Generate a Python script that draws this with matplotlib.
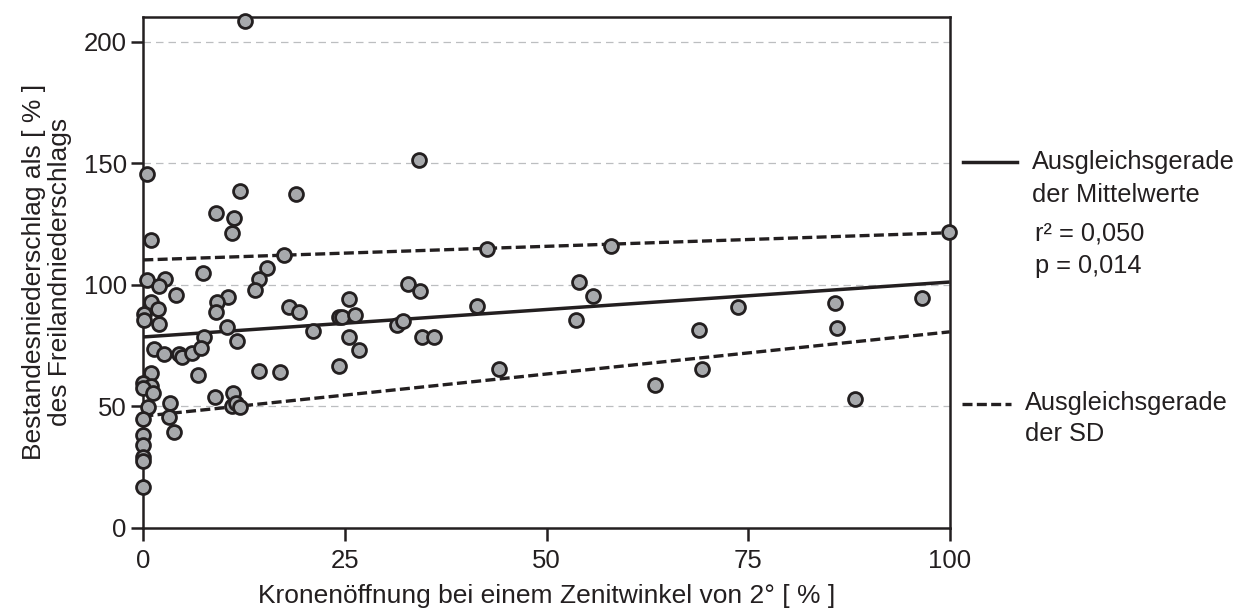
import matplotlib
matplotlib.use("Agg")
import matplotlib.pyplot as plt
from matplotlib.lines import Line2D
import numpy as np

plt.rcParams['font.family'] = ['Liberation Sans', 'DejaVu Sans']

# Kronenöffnung [%]
krone = [12.6, 0.4, 12.0, 18.9, 9.0, 11.3, 11.0, 1.0, 17.5, 15.3,
         7.4, 0.5, 2.7, 1.9, 14.3, 13.9, 4.1, 10.5, 9.1, 0.9,
         1.8, 9.05, 18.1, 19.3, 0.05, 0.05, 1.9, 10.4, 21.1, 7.5,
         11.6, 1.3, 2.6, 4.45, 4.8, 6.1, 7.2, 0.95, 6.8, 0.0,
         0.9, 0.0, 1.2, 14.4, 16.9, 8.9, 11.1, 3.3, 0.6, 11.0,
         11.5, 12.0, 3.2, 0.0, 3.8, 0.0, 0.0, 0.0, 0.0, 0.0,
         34.2, 42.6, 32.8, 34.3, 25.5, 24.3, 24.7, 26.2, 41.4, 31.5,
         32.2, 25.5, 34.6, 36.0, 26.7, 24.3, 44.1, 58.0, 54.0, 55.8,
         53.7, 73.7, 68.9, 69.3, 63.4, 99.9, 85.8, 96.6, 86.0, 88.3]
# Bestandesniederschlag [% des Freilandniederschlags]
niederschlag = [208.5, 145.6, 138.6, 137.2, 129.4, 127.3, 121.2, 118.3, 112.2, 106.9,
                104.8, 101.9, 102.3, 99.5, 102.5, 97.8, 95.6, 95.1, 92.9, 92.8,
                90.0, 88.6, 90.8, 88.9, 87.9, 85.3, 83.7, 82.5, 81.1, 78.4,
                76.7, 73.5, 71.5, 71.5, 70.4, 72.0, 74.1, 63.5, 62.7, 59.7,
                58.4, 57.5, 55.6, 64.5, 63.9, 53.9, 55.3, 51.4, 49.5, 50.1,
                51.2, 49.5, 45.6, 44.6, 39.5, 38.0, 34.2, 29.2, 27.6, 16.6,
                151.4, 114.7, 100.2, 97.5, 94.1, 86.8, 86.8, 87.7, 91.1, 83.5,
                85.1, 78.6, 78.6, 78.6, 73.0, 66.5, 65.4, 116.0, 101.2, 95.2,
                85.3, 90.9, 81.2, 65.4, 58.6, 121.6, 92.5, 94.5, 82.2, 52.8]

# Ausgleichsgeraden (Endpunkte bei x = 0 und x = 100)
gerade_x = [0, 100]
mittel_y = [78.5, 101.1]
sd_oben_y = [110.2, 121.4]
sd_unten_y = [45.9, 80.6]

xticks = [0, 25, 50, 75, 100]
yticks = [0, 50, 100, 150, 200]

dark = '#231f20'
fs = 18.5

fig = plt.figure(figsize=(12.48, 6.10), dpi=100)
ax = fig.add_axes([143.3 / 1248, 1 - 527.7 / 610, (949.7 - 143.3) / 1248, (527.7 - 16.7) / 610])

for yv in yticks[1:]:
    ax.axhline(yv, color='#bcbec0', lw=0.9, dashes=(6, 4), zorder=0)

ax.plot(gerade_x, mittel_y, color=dark, lw=2.5, solid_capstyle='butt', zorder=2)
ax.plot(gerade_x, sd_oben_y, color=dark, lw=2.4, dashes=(3, 1.3), zorder=2)
ax.plot(gerade_x, sd_unten_y, color=dark, lw=2.4, dashes=(3, 1.3), zorder=2)

ax.scatter(krone, niederschlag, s=100, facecolor='#a7a9ac', edgecolor=dark,
           linewidths=2.0, zorder=3, clip_on=False)

ax.set_xlim(0, 100)
ax.set_ylim(0, 210.3)
ax.set_xticks(xticks)
ax.set_yticks(yticks)
ax.tick_params(direction='out', length=9, width=1.8, color=dark,
               labelsize=fs, labelcolor=dark)
ax.tick_params(axis='y', pad=3)
ax.tick_params(axis='x', pad=6)
for s in ax.spines.values():
    s.set_linewidth(1.8)
    s.set_color(dark)

ax.set_xlabel('Kronenöffnung bei einem Zenitwinkel von 2° [ % ]', fontsize=19, color=dark, labelpad=8.5)
ax.set_ylabel('Bestandesniederschlag als [ % ]\ndes Freilandniederschlags', fontsize=19,
              color=dark, labelpad=8, linespacing=1.15)

# Legende rechts
lfs = 18.3
fig.add_artist(Line2D([963 / 1248, 1017 / 1248], [1 - 162 / 610] * 2, color=dark, lw=2.5))
fig.text(1032 / 1248, 1 - 162 / 610, 'Ausgleichsgerade', fontsize=lfs, color=dark, va='center')
fig.text(1032 / 1248, 1 - 195 / 610, 'der Mittelwerte', fontsize=lfs, color=dark, va='center')
fig.text(1035 / 1248, 1 - 233 / 610, 'r² = 0,050', fontsize=lfs, color=dark, va='center')
fig.text(1035 / 1248, 1 - 266 / 610, 'p = 0,014', fontsize=lfs, color=dark, va='center')

fig.add_artist(Line2D([962 / 1248, 1011 / 1248], [1 - 404 / 610] * 2, color=dark, lw=2.4, dashes=(3, 1.3)))
fig.text(1025 / 1248, 1 - 403 / 610, 'Ausgleichsgerade', fontsize=lfs, color=dark, va='center')
fig.text(1025 / 1248, 1 - 434 / 610, 'der SD', fontsize=lfs, color=dark, va='center')

fig.savefig('out.png', dpi=100, facecolor='white')
